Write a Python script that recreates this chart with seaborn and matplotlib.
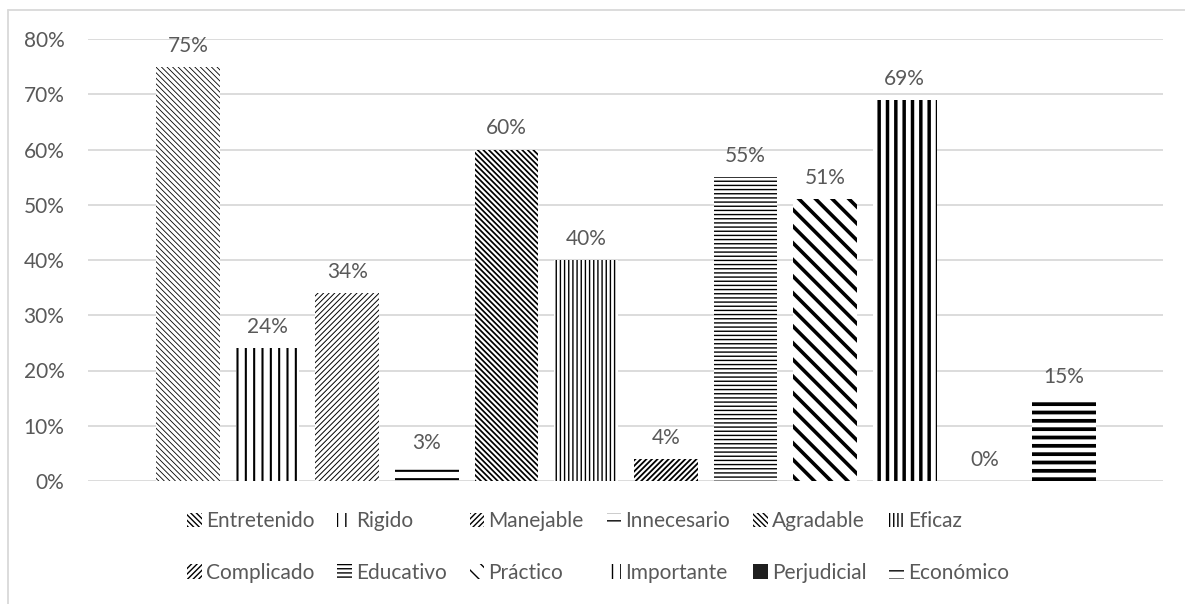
import matplotlib
matplotlib.use("Agg")
import matplotlib.pyplot as plt
import matplotlib.patches as mpatches
from matplotlib.lines import Line2D
import seaborn as sns
import pandas as pd

# Survey answers: share of respondents choosing each adjective
categorias = ["Entretenido", "Rigido", "Manejable", "Innecesario", "Agradable", "Eficaz",
              "Complicado", "Educativo", "Práctico", "Importante", "Perjudicial", "Económico"]
porcentajes = [75, 24, 34, 3, 60, 40, 4, 55, 51, 69, 0, 15]

# Black & white fill pattern for each series: (hatch, hatch line width)
tramas = [("\\" * 6, 0.6), ("||", 1.5), ("/" * 6, 0.7), ("--", 1.5),
          ("\\" * 6, 1.25), ("||||", 1.0), ("/" * 6, 1.3), ("----", 1.0),
          ("\\" * 2, 2.6), ("||", 2.5), ("", 0.0), ("--", 2.7)]

GRIS_TEXTO = "#595959"
GRIS_REJILLA = "#d9d9d9"
TAM = 15

sns.set_theme(style="white")
plt.rcParams["font.family"] = ["Lato", "DejaVu Sans"]

df = pd.DataFrame({"categoria": categorias, "valor": [v / 100 for v in porcentajes]})

fig = plt.figure(figsize=(11.85, 6.04), dpi=100)
ax = fig.add_axes([88 / 1185, 1 - 481 / 604, (1163 - 88) / 1185, (481 - 39) / 604])

sns.barplot(data=df, x="categoria", y="valor", hue="categoria", order=categorias,
            hue_order=categorias, palette=["white"] * len(categorias), legend=False,
            width=0.8, ax=ax, saturation=1)


def aplicar_trama(p, trama, lw, solido=False):
    if solido:
        p.set_facecolor("#1f1f1f")
        p.set_edgecolor("#1f1f1f")
    else:
        p.set_facecolor("white")
        p.set_edgecolor("black")
        p.set_hatch(trama)
    p.set_linewidth(0)
    if lw:
        if hasattr(p, "set_hatch_linewidth"):
            p.set_hatch_linewidth(lw)
        else:
            p._hatch_linewidth = lw


barras = [c.patches[0] for c in ax.containers]
for p, (trama, lw), cat in zip(barras, tramas, categorias):
    aplicar_trama(p, trama, lw, solido=(cat == "Perjudicial"))

# value labels above each bar
for cont, v in zip(ax.containers, porcentajes):
    ax.bar_label(cont, labels=[f"{v}%"], padding=8, color=GRIS_TEXTO, fontsize=TAM)

ax.set_ylim(0, 0.8)
ax.set_xlim(-1.256, 12.244)
ax.set_yticks([i / 10 for i in range(9)])
ax.set_yticklabels([f"{i * 10}%" for i in range(9)], color=GRIS_TEXTO, fontsize=TAM)
ax.set_xticks([])
ax.set_xlabel("")
ax.set_ylabel("")
ax.tick_params(axis="y", length=0, pad=17)
ax.yaxis.grid(True, color=GRIS_REJILLA, linewidth=1.3)
ax.set_axisbelow(True)
for s in ax.spines.values():
    s.set_visible(False)

# legend: two rows of six entries, filled column by column
handles = []
for (trama, lw), cat in zip(tramas, categorias):
    h = mpatches.Patch(label=cat)
    aplicar_trama(h, trama, lw, solido=(cat == "Perjudicial"))
    handles.append(h)
orden = []
for col in range(6):
    orden += [col, col + 6]
leg = fig.legend([handles[i] for i in orden], [categorias[i] for i in orden],
                 loc="center", bbox_to_anchor=(598 / 1185, 1 - 547 / 604), ncol=6,
                 frameon=False, fontsize=TAM, handlelength=0.7, handleheight=0.7,
                 handletextpad=0.2, columnspacing=1.1, labelspacing=1.5,
                 labelcolor=GRIS_TEXTO)

# chart area border (top and left edges)
fig.add_artist(Line2D([7.5 / 1185, 7.5 / 1185], [0, 1 - 9.5 / 604], transform=fig.transFigure,
                      color=GRIS_REJILLA, linewidth=1.3))
fig.add_artist(Line2D([7.5 / 1185, 1], [1 - 9.5 / 604, 1 - 9.5 / 604], transform=fig.transFigure,
                      color=GRIS_REJILLA, linewidth=1.3))

fig.savefig("out.png", dpi=100, facecolor="white")
